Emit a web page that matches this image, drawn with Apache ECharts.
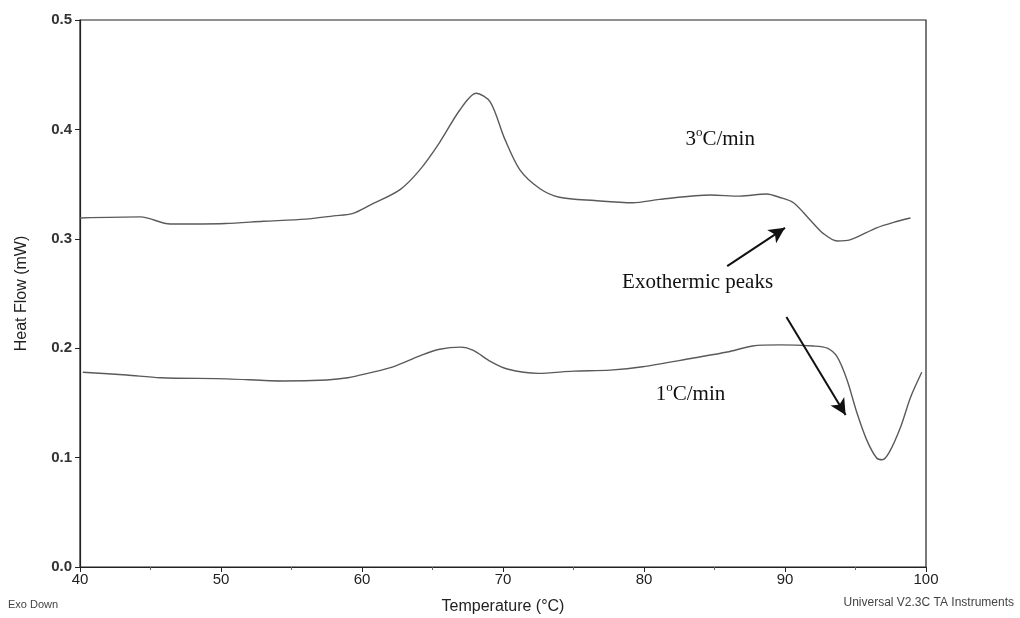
<!DOCTYPE html>
<html>
<head>
<meta charset="utf-8">
<script src="https://cdn.jsdelivr.net/npm/echarts@6/dist/echarts.min.js"></script>
<style>
html,body{margin:0;padding:0;background:#fff;}
#chart{width:1020px;height:618px;}
</style>
</head>
<body>
<div id="chart"></div>
<script>
// Temperature (°C) and heat flow (mW)
const temp3 = [40.0, 44.3, 46.4, 50.3, 53.0, 56.0, 58.0, 59.3, 60.6, 62.7, 64.1, 65.5, 66.95, 68.1, 69.1, 70.1, 71.2, 72.6, 74.0, 76.5, 79.2, 81.1, 84.7, 86.8, 88.7, 89.6, 90.6, 91.8, 92.7, 93.7, 94.6, 96.5, 97.7, 98.9];
const flow3 = [0.319, 0.320, 0.3135, 0.314, 0.316, 0.318, 0.321, 0.323, 0.331, 0.345, 0.363, 0.388, 0.418, 0.433, 0.425, 0.392, 0.363, 0.346, 0.338, 0.335, 0.333, 0.336, 0.340, 0.339, 0.341, 0.338, 0.333, 0.317, 0.305, 0.298, 0.299, 0.310, 0.315, 0.319];

const temp1 = [40.2, 43.3, 45.7, 50.4, 54.4, 57.5, 59.0, 60.4, 62.2, 64.1, 65.5, 67.0, 67.9, 69.1, 70.3, 72.5, 75.0, 77.6, 79.9, 83.5, 85.9, 87.7, 89.6, 92.0, 93.0, 93.7, 94.4, 95.1, 95.8, 96.5, 96.9, 97.4, 98.2, 98.9, 99.7];
const flow1 = [0.178, 0.1755, 0.173, 0.172, 0.170, 0.171, 0.173, 0.177, 0.183, 0.193, 0.199, 0.201, 0.198, 0.188, 0.181, 0.177, 0.179, 0.180, 0.183, 0.191, 0.1965, 0.202, 0.203, 0.202, 0.200, 0.192, 0.171, 0.141, 0.116, 0.0996, 0.098, 0.105, 0.128, 0.155, 0.178];

const xTicks = [40, 50, 60, 70, 80, 90, 100];

// annotation anchors in data coordinates
const labelRate3 = {text: '3', pos: [85.4, 0.392]};
const labelRate1 = {text: '1', pos: [83.3, 0.159]};
const labelPeaks = {text: 'Exothermic peaks', pos: [83.8, 0.26]};
const arrowUp = [[85.9, 0.275], [90.0, 0.31]];
const arrowDown = [[90.1, 0.2285], [94.3, 0.139]];

const pair = (xs, ys) => xs.map((x, i) => [x, ys[i]]);

const chart = echarts.init(document.getElementById('chart'), null, {renderer: 'canvas'});

const rateLabel = (l) => ({
  coord: l.pos,
  symbol: 'circle',
  symbolSize: 0,
  label: {
    show: true,
    position: 'inside',
    formatter: '{n|' + l.text + '}{s|o}{n|C/min}',
    rich: {
      n: {fontFamily: 'Liberation Serif', fontSize: 21, color: '#111', lineHeight: 24, verticalAlign: 'bottom'},
      s: {fontFamily: 'Liberation Serif', fontSize: 13, color: '#111', lineHeight: 13, verticalAlign: 'top'}
    }
  }
});

const option = {
  animation: false,
  backgroundColor: '#fff',
  grid: {left: 80, right: 94, top: 20, bottom: 51, outerBoundsMode: 'none', containLabel: false,
    show: true, borderColor: '#222', borderWidth: 1.2, backgroundColor: 'transparent'},
  xAxis: {
    type: 'value', min: 40, max: 100, interval: 10,
    name: 'Temperature (°C)', nameLocation: 'middle', nameGap: 32,
    nameTextStyle: {fontFamily: 'Liberation Sans', fontSize: 16, color: '#222'},
    axisLine: {show: true, lineStyle: {color: '#222', width: 1.2}},
    axisTick: {show: true, inside: false, length: 5, lineStyle: {color: '#222'}},
    minorTick: {show: true, splitNumber: 2, length: 3, lineStyle: {color: '#666'}},
    splitLine: {show: false},
    axisLabel: {fontFamily: 'Liberation Sans', fontSize: 15, color: '#222', margin: 5,
      customValues: xTicks},
  },
  yAxis: {
    type: 'value', min: 0, max: 0.5, interval: 0.1,
    name: 'Heat Flow (mW)', nameLocation: 'middle', nameGap: 50, nameRotate: 90,
    nameTextStyle: {fontFamily: 'Liberation Sans', fontSize: 16, color: '#222'},
    axisLine: {show: true, lineStyle: {color: '#222', width: 1.2}},
    axisTick: {show: true, inside: false, length: 5, lineStyle: {color: '#222'}},
    splitLine: {show: false},
    axisLabel: {fontFamily: 'Liberation Sans', fontSize: 15, fontWeight: 'bold', color: '#333', margin: 8,
      formatter: v => v.toFixed(1)}
  },
  series: [
    {
      name: '3°C/min', type: 'line', data: pair(temp3, flow3), showSymbol: false, smooth: 0.3,
      lineStyle: {color: '#5a5a5a', width: 1.4},
      markPoint: {silent: true, data: [rateLabel(labelRate3), {
        coord: labelPeaks.pos, symbol: 'circle', symbolSize: 0,
        label: {show: true, position: 'inside', formatter: labelPeaks.text,
          fontFamily: 'Liberation Serif', fontSize: 21, color: '#111'}
      }]},
      markLine: {
        silent: true, symbol: ['none', 'arrow'], symbolSize: [12, 16],
        label: {show: false},
        lineStyle: {color: '#111', width: 2, type: 'solid'},
        data: [
          [{coord: arrowUp[0]}, {coord: arrowUp[1]}],
          [{coord: arrowDown[0]}, {coord: arrowDown[1]}]
        ]
      }
    },
    {
      name: '1°C/min', type: 'line', data: pair(temp1, flow1), showSymbol: false, smooth: 0.3,
      lineStyle: {color: '#5a5a5a', width: 1.4},
      markPoint: {silent: true, data: [rateLabel(labelRate1)]}
    }
  ],
  graphic: [
    {type: 'text', left: 8, top: 599, style: {text: 'Exo Down', fontFamily: 'Liberation Sans', fontSize: 11, fill: '#444'}},
    {type: 'text', right: 6, top: 597, style: {text: 'Universal V2.3C TA Instruments', fontFamily: 'Liberation Sans', fontSize: 12, fill: '#444'}}
  ]
};
chart.setOption(option);
</script>
</body>
</html>
